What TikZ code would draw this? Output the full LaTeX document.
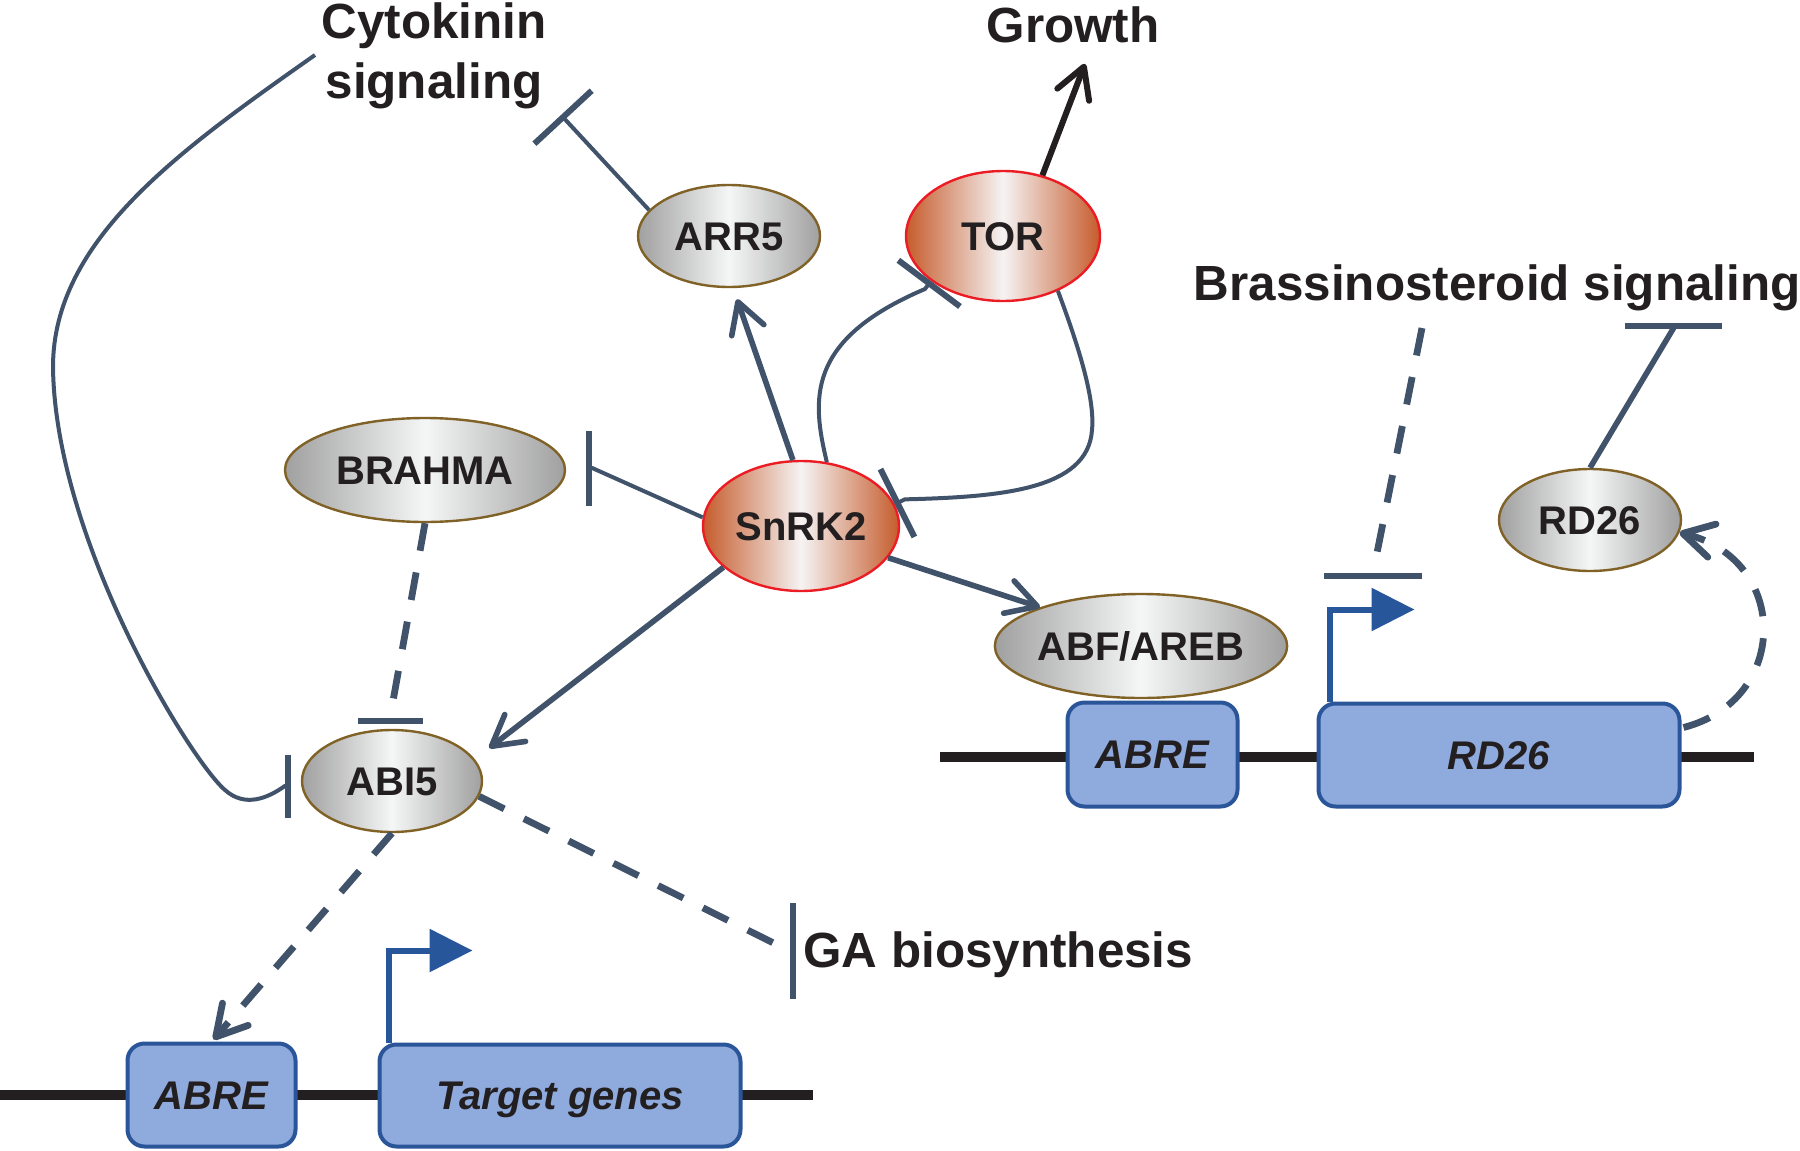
\documentclass[tikz,border=0pt]{standalone}
\usepackage{fontspec}
\setmainfont{Liberation Sans}
\usetikzlibrary{shapes.geometric,arrows.meta}
\definecolor{conn}{RGB}{64,83,106}
\definecolor{ink}{RGB}{35,31,32}
\definecolor{gedge}{RGB}{160,160,160}
\definecolor{gmid}{RGB}{245,246,246}
\definecolor{gborder}{RGB}{128,98,38}
\definecolor{redge}{RGB}{198,92,45}
\definecolor{rmid}{RGB}{245,243,243}
\definecolor{rborder}{RGB}{236,28,36}
\definecolor{boxfill}{RGB}{143,170,220}
\definecolor{boxline}{RGB}{42,85,152}
\definecolor{prom}{RGB}{40,86,155}
\begin{document}
\begin{tikzpicture}[x=0.5pt,y=-0.5pt,
  prot/.style={ellipse, draw=gborder, line width=1.2pt, inner sep=0pt,
    left color=gedge, right color=gedge, middle color=gmid,
    font=\fontsize{20}{24}\selectfont\bfseries, text=ink, text height=14.3pt, text depth=0pt},
  kin/.style={prot, draw=rborder, left color=redge, right color=redge, middle color=rmid},
  dnabox/.style={rectangle, rounded corners=8.5pt, draw=boxline, line width=2pt, fill=boxfill,
    inner sep=0pt, font=\fontsize{20}{24}\selectfont\bfseries\itshape, text=ink,
    text height=14.3pt, text depth=0pt},
  lbl/.style={inner sep=0pt, font=\fontsize{24.7}{30}\selectfont\bfseries, text=ink},
  lthin/.style={draw=conn, line width=2pt},
  lthick/.style={draw=conn, line width=2.8pt},
  dashline/.style={draw=conn, line width=3.4pt, dash pattern=on 14pt off 11pt},
  act/.style={-{Straight Barb[length=15pt,width=17pt,round]}},
  inh/.style={-{Bar[width=#1,line width=3pt]}},
  dna/.style={draw=ink, line width=5pt},
  promoter/.style={draw=prom, line width=3pt, -{Triangle[length=21.5pt,width=21pt]}}
]
\useasboundingbox (0,0) rectangle (1800,1151);

% DNA strands
\coordinate (dnaA) at (0,1095);
\coordinate (dnaB) at (813,1095);
\coordinate (dnaC) at (940,757);
\coordinate (dnaD) at (1754,757);
\draw[dna] (dnaA) -- (dnaB);
\draw[dna] (dnaC) -- (dnaD);

% boxes
\node[dnabox, minimum width=84pt, minimum height=51.5pt] (abreL) at (211.5,1095) {ABRE};
\node[dnabox, minimum width=180.5pt, minimum height=51pt] (tg) at (560,1095.5) {Target genes};
\node[dnabox, minimum width=85pt, minimum height=52pt] (abreR) at (1152.5,754.5) {ABRE};
\node[dnabox, minimum width=180.5pt, minimum height=51.5pt] (rdbox) at (1499,755) {RD26};

% proteins
\node[prot, minimum width=91pt, minimum height=51pt] (arr5) at (729,236) {ARR5};
\node[kin, minimum width=97pt, minimum height=65pt] (tor) at (1003,236) {TOR};
\node[kin, minimum width=98pt, minimum height=65pt] (snrk2) at (801,526) {SnRK2};
\node[prot, minimum width=140pt, minimum height=52pt] (brahma) at (425,470) {BRAHMA};
\node[prot, minimum width=90pt, minimum height=51pt] (abi5) at (392,781) {ABI5};
\node[prot, minimum width=139pt, minimum height=52pt] (abf) at (1141,646) {ABF/AREB};
\node[prot, minimum width=91pt, minimum height=51pt] (rd26) at (1590,520) {RD26};

% labels
\node[lbl, align=center, anchor=north] (cyto) at (434,2) {Cytokinin\\signaling};
\node[lbl, anchor=base] (growth) at (1073,42) {Growth};
\node[lbl, anchor=base east] (brass) at (1801,300) {Brassinosteroid signaling};
\node[lbl, anchor=base west] (ga) at (803,967) {GA biosynthesis};

% free ends
\coordinate (cstart) at (315,55);
\coordinate (cytobar) at (561,115);
\coordinate (bstart) at (1422,328);
\coordinate (brassbar) at (1373,579);
\coordinate (rdbar) at (1673,323);

% Cytokinin signaling -| ABI5
\draw[lthin, inh=31.5pt] (cstart) .. controls (180,150) and (53,240) .. (53,367)
   .. controls (55,540) and (190,760) .. (225,790)
   .. controls (245,808) and (268,798) .. ([shift={(-16,5)}]abi5.west) -- ([shift={(-10,5)}]abi5.west);
% ARR5 -| Cytokinin signaling
\draw[lthin, inh=39pt] (arr5.162) -- (cytobar);
% SnRK2 -> ARR5
\draw[lthick, act] (snrk2.97) -- ([shift={(8,11)}]arr5.south);
% SnRK2 -| TOR
\draw[lthin, inh=38.5pt] (snrk2.68) .. controls (812,400) and (805,340) .. ([shift={(-6,8)}]tor.212) -- (tor.212);
% TOR -| SnRK2
\draw[lthin, inh=38pt] (tor.315) .. controls (1080,350) and (1095,400) .. (1092,430)
   .. controls (1088,490) and (1000,497) .. ([shift={(10,-5)}]snrk2.13) -- (snrk2.13);
% TOR -> Growth
\draw[draw=ink, line width=3pt, act] (tor.57) -- ([shift={(12,21)}]growth.south);
% SnRK2 -| BRAHMA
\draw[lthin, inh=37.5pt] (snrk2.175) -- ([shift={(26,-2)}]brahma.east) -- ([shift={(20,-2)}]brahma.east);
% SnRK2 -> ABI5
\draw[lthick, act] (snrk2.208) -- ([shift={(6,-33)}]abi5.east);
% SnRK2 -> ABF/AREB
\draw[lthick, act] (snrk2.340) -- (abf.159);
% BRAHMA --| ABI5
\draw[dashline, inh=32.5pt] (brahma.south) -- ([shift={(-2,-11)}]abi5.north) -- ([shift={(-2,-5)}]abi5.north);
% ABI5 --> ABRE
\draw[dashline, act] (abi5.south) -- ([shift={(2,-2)}]abreL.north);
% ABI5 --| GA biosynthesis
\draw[dashline, inh=48pt] (abi5.350) -- ([shift={(-13,-3)}]ga.west) -- ([shift={(-7,-3)}]ga.west);
% Brassinosteroid signaling --| RD26 promoter
\draw[dashline, inh=49pt] (bstart) -- ([shift={(0,-6)}]brassbar) -- (brassbar);
% RD26 -| Brassinosteroid signaling
\draw[lthick, inh=48.5pt] (rd26.north) -- ([shift={(0,6)}]rdbar) -- (rdbar);
% RD26 gene --> RD26 protein
\draw[dashline, act] ([shift={(2,26)}]rdbox.north east) .. controls (1790,700) and (1790,560) .. (rd26.352);

% promoter arrows
\draw[promoter] ([xshift=5.5pt]tg.north west) -- ++(0,-92) -- ++(84,0);
\draw[promoter] ([xshift=6.5pt]rdbox.north west) -- ++(0,-92) -- ++(85,0);
\end{tikzpicture}
\end{document}
